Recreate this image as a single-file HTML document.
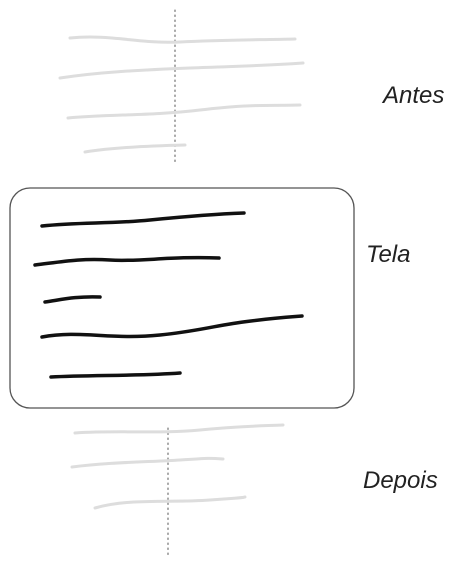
<!DOCTYPE html>
<html><head><meta charset="utf-8"><style>
html,body{margin:0;padding:0;background:#fff;width:470px;height:569px;overflow:hidden}
svg{display:block}
text{font-family:"Liberation Sans",sans-serif;font-style:italic;fill:#222}
</style></head><body>
<svg width="470" height="569" viewBox="0 0 470 569">
<g fill="none" stroke="#ddd" stroke-width="3" stroke-linecap="round">
<line x1="175" y1="10" x2="175" y2="165" stroke="#555" stroke-width="1" stroke-dasharray="1.5,3.5"/>
<path d="M70 38 C110 34,140 44,180 42 S250 40,295 39"/>
<path d="M60 78 C100 72,140 70,190 68 S260 66,303 63"/>
<path d="M68 118 C110 114,150 116,200 110 S260 106,300 105"/>
<path d="M85 152 C110 148,140 146,185 145"/>
</g>
<text x="383" y="103" font-size="24">Antes</text>
<rect x="10" y="188" width="344" height="220" rx="20" fill="none" stroke="#555" stroke-width="1.3"/>
<g fill="none" stroke="#111" stroke-width="3.5" stroke-linecap="round">
<path d="M42 226 C80 222,110 224,150 220 S215 214,244 213"/>
<path d="M35 265 C60 262,80 258,110 260 S170 256,219 258"/>
<path d="M45 302 C60 300,75 296,100 297"/>
<path d="M42 337 C80 330,110 340,160 335 S220 322,302 316"/>
<path d="M51 377 C90 375,140 376,180 373"/>
</g>
<text x="366" y="262" font-size="24">Tela</text>
<g fill="none" stroke="#ddd" stroke-width="3" stroke-linecap="round">
<line x1="168" y1="428" x2="168" y2="558" stroke="#555" stroke-width="1" stroke-dasharray="1.5,3.5"/>
<path d="M75 433 C120 430,160 434,200 430 S260 426,283 425"/>
<path d="M72 467 C110 462,150 462,180 460 S210 458,223 459"/>
<path d="M95 508 C130 498,170 503,210 500 S240 498,245 497"/>
</g>
<text x="363" y="488" font-size="24">Depois</text>
</svg>
</body></html>
